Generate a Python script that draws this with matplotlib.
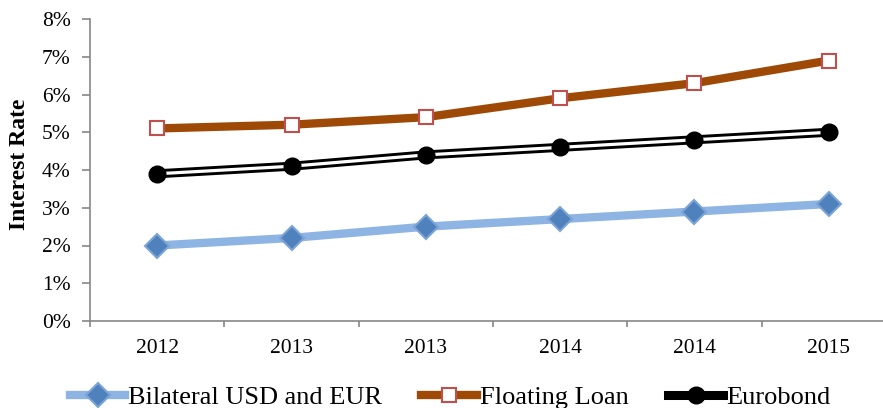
import matplotlib
matplotlib.use('Agg')
import matplotlib.pyplot as plt
from matplotlib.lines import Line2D
from matplotlib.ticker import FuncFormatter, FixedLocator

plt.rcParams['font.family'] = ['Liberation Serif', 'DejaVu Serif']

years = ['2012', '2013', '2013', '2014', '2014', '2015']
bilateral = [2.0, 2.2, 2.5, 2.7, 2.9, 3.1]
floating = [5.1, 5.2, 5.4, 5.9, 6.3, 6.9]
eurobond = [3.9, 4.1, 4.4, 4.6, 4.8, 5.0]

fig = plt.figure(figsize=(8.83, 4.08), dpi=100)
ax = fig.add_axes([90/883, 1 - 321/408, 806/883, 302/408])
x = list(range(len(years)))

h1, = ax.plot(x, bilateral, color='#8DB4E2', lw=6, marker='D', ms=12,
              mfc='#4F81BD', mec='#7BA3D6', mew=1.5, zorder=3)
h2, = ax.plot(x, floating, color='#9E4A06', lw=6, marker='s', ms=10,
              mfc='white', mec='#C0504D', mew=1.5, zorder=3)
# eurobond: double line (black outer, white inner)
ax.plot(x, eurobond, color='black', lw=6.5, zorder=3, solid_capstyle='butt')
ax.plot(x, eurobond, color='white', lw=2.3, zorder=3, solid_capstyle='butt')
ax.plot(x, eurobond, ls='none', marker='o', ms=12, color='black', zorder=4)
h3 = Line2D([], [], color='black', lw=6.5, marker='o', ms=12)

ax.set_xlim(-0.5, 5.5)
ax.set_ylim(0, 8)
ax.set_yticks(range(0, 9))
ax.yaxis.set_major_formatter(FuncFormatter(lambda v, p: f'{int(v)}%'))
ax.set_xticks(x)
ax.set_xticklabels(years)
ax.xaxis.set_minor_locator(FixedLocator([i - 0.5 for i in range(7)]))
ax.tick_params(axis='x', which='major', length=0, pad=13, labelsize=15.5)
ax.tick_params(axis='x', which='minor', length=4.5, color='#868686', width=1.2)
ax.tick_params(axis='y', length=6, color='#868686', width=1.2, labelsize=15.5, pad=8)

for s in ['top', 'right']:
    ax.spines[s].set_visible(False)
for s in ['left', 'bottom']:
    ax.spines[s].set_color('#868686')
    ax.spines[s].set_linewidth(1.2)

fig.text(20/883, 1 - 164/408, 'Interest Rate', rotation=90, ha='center', va='center',
         fontsize=17, fontweight='bold')

fig.legend([h1, h2, h3], ['Bilateral USD and EUR', 'Floating Loan', 'Eurobond'],
           loc='center', bbox_to_anchor=(450/883, 1 - 397/408), ncol=3,
           frameon=False, fontsize=19, handlelength=2.1, handletextpad=0.1,
           columnspacing=1.5)

fig.savefig('out.png', dpi=100)
